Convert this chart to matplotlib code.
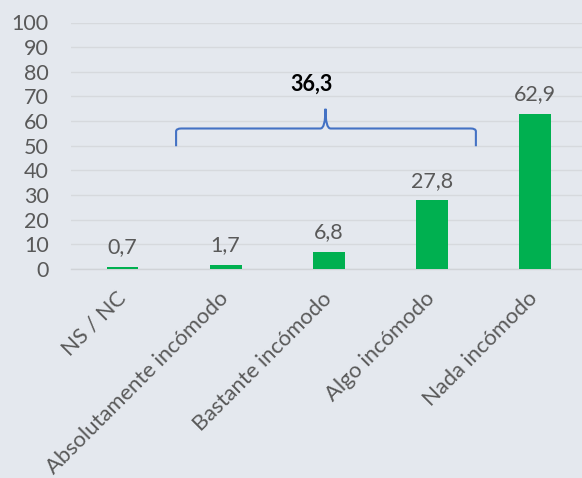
import matplotlib
matplotlib.use("Agg")
import matplotlib.pyplot as plt
from matplotlib.path import Path
from matplotlib.patches import PathPatch

categories = ["NS / NC", "Absolutamente incómodo", "Bastante incómodo", "Algo incómodo", "Nada incómodo"]
values = [0.7, 1.7, 6.8, 27.8, 62.9]
value_labels = ["0,7", "1,7", "6,8", "27,8", "62,9"]
bracket_label = "36,3"
yticks = list(range(0, 101, 10))

bg = "#E4E8EE"
plt.rcParams['font.family'] = ['Lato', 'DejaVu Sans']
fs = 15.5

fig = plt.figure(figsize=(5.82, 4.78), dpi=100, facecolor=bg)
ax = fig.add_axes([71/582, 1 - 269/478, 511/582, (269 - 22.5)/478])
ax.set_facecolor(bg)

x = list(range(len(categories)))
ax.bar(x, values, width=0.31, color="#00B050", zorder=3)
for xi, v, lab in zip(x, values, value_labels):
    ax.annotate(lab, (xi, v), xytext=(0, 7), textcoords="offset points",
                ha="center", va="bottom", fontsize=fs, color="#595959")

ax.set_xlim(-0.5, 4.46)
ax.set_ylim(0, 100)
ax.set_yticks(yticks)
ax.tick_params(axis="y", length=0, labelsize=fs, labelcolor="#595959", pad=16)
ax.set_xticks(x)
ax.set_xticklabels(categories, rotation=45, ha="right", va="center", rotation_mode="anchor",
                   fontsize=15.8, color="#595959")
ax.tick_params(axis="x", length=0, pad=19)
ax.grid(axis="y", color="#D6D9DD", linewidth=1, zorder=0)
for s in ["top", "right", "left"]:
    ax.spines[s].set_visible(False)
ax.spines["bottom"].set_color("#D0D3D7")
ax.spines["bottom"].set_linewidth(1)

# brace
x0, x1, xm = 0.52, 3.43, 1.97
yb, yh, yt = 49.8, 57.0, 65.0
r = 0.05
verts = [(x0, yb), (x0, yh - 1.2), (x0, yh), (x0 + r, yh),
         (xm - r, yh), (xm, yh), (xm, yt),
         (xm, yh), (xm + r, yh), (x1 - r, yh),
         (x1, yh), (x1, yh - 1.2), (x1, yb)]
codes = [Path.MOVETO, Path.LINETO, Path.CURVE3, Path.CURVE3,
         Path.LINETO, Path.CURVE3, Path.CURVE3,
         Path.CURVE3, Path.CURVE3, Path.LINETO,
         Path.CURVE3, Path.CURVE3, Path.LINETO]
ax.add_patch(PathPatch(Path(verts, codes), fill=False, edgecolor="#4472C4", lw=1.5, zorder=4))
ax.text(1.83, 75, bracket_label, ha="center", va="center", fontsize=fs,
        fontweight="bold", color="black")

fig.savefig("out.png", dpi=100, facecolor=bg)
